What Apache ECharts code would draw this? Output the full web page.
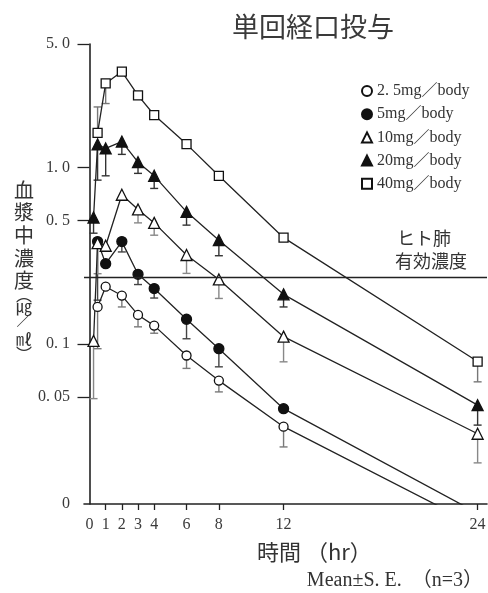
<!DOCTYPE html>
<html><head><meta charset="utf-8">
<script src="https://cdn.jsdelivr.net/npm/echarts@6/dist/echarts.min.js"></script>
<style>html,body{margin:0;padding:0;background:#fff}#c{width:488px;height:593px}</style>
</head><body><div id="c"></div>
<script>
// ---- data ----
const times = [0.25, 0.5, 1, 2, 3, 4, 6, 8, 12, 24];            // hr
const doseNames = ['2. 5mg／body', '5mg／body', '10mg／body', '20mg／body', '40mg／body'];
// mean plasma concentration (μg/mL); null = not plotted
const conc2_5 = [null, 0.162, 0.211, 0.188, 0.146, 0.127, 0.086, 0.062, 0.034, 0.0093];
const conc5   = [null, 0.38, 0.285, 0.38, 0.248, 0.206, 0.138, 0.094, 0.043, 0.011];
const conc10  = [0.104, 0.372, 0.36, 0.70, 0.578, 0.485, 0.319, 0.232, 0.110, 0.031];
const conc20  = [0.52, 1.35, 1.28, 1.40, 1.07, 0.896, 0.56, 0.387, 0.191, 0.045];
const conc40  = [null, 1.57, 2.99, 3.49, 2.56, 1.98, 1.355, 0.896, 0.40, 0.0795];
// end of the one-sided S.E. bar (μg/mL); null = no bar drawn
const errEnd2_5 = [null, 0.094, null, 0.162, 0.125, 0.115, 0.0727, 0.0535, 0.0261, null];
const errEnd5   = [null, 0.177, null, 0.332, 0.217, 0.182, 0.107, 0.0742, null, null];
const errEnd10  = [0.049, 0.25, null, null, 0.485, 0.413, 0.251, 0.181, 0.0792, 0.0212];
const errEnd20  = [0.424, 0.847, 0.896, 1.185, 0.925, 0.76, 0.471, 0.316, 0.162, 0.0347];
const errEnd40  = [null, 2.2, 2.3, null, null, null, null, null, null, 0.061];
const lungEffectiveConc = 0.245;   // ヒト肺有効濃度
// axis ticks / labels
const xTickValues  = [1, 2, 3, 4, 6, 8, 12, 24];
const xLabelValues = [0, 1, 2, 3, 4, 6, 8, 12, 24];
const Y_MIN = 0.0124, Y_MAX = 5;
const yTickValues  = [0.05, 0.1, 0.5, 1, 5];
const yLabelValues = [Y_MIN * 1.001, 0.05, 0.1, 0.5, 1, 5];
const yLabelTexts  = ['0', '0. 05', '0. 1', '0. 5', '1. 0', '5. 0'];

// ---- chart ----
const serif = '"Liberation Serif", "Noto Sans CJK JP", serif';
const cjk = '"Noto Sans CJK JP", sans-serif';
const INK = '#222';

function lineSeries(name, conc, symbol, filled, size) {
  return {
    type: 'line', name: name,
    data: times.map((t, i) => [t, conc[i]]),
    symbol: symbol, symbolSize: size, showAllSymbol: true,
    clip: true, connectNulls: false, animation: false,
    lineStyle: { color: INK, width: 1.3 },
    itemStyle: { color: filled ? '#111' : '#fff', borderColor: '#111', borderWidth: 1.3 },
    emphasis: { disabled: true }, z: 4
  };
}
function errSeries(name, conc, ends, color) {
  const d = [];
  times.forEach((t, i) => { if (conc[i] != null && ends[i] != null) d.push([t, conc[i], ends[i]]); });
  return {
    type: 'custom', name: name + ' SE', data: d, clip: true, silent: true, z: 3,
    encode: { x: 0, y: 1 }, animation: false,
    renderItem: function (params, api) {
      const p1 = api.coord([api.value(0), api.value(1)]);
      const p2 = api.coord([api.value(0), api.value(2)]);
      const st = { stroke: color, lineWidth: 1.4 };
      return { type: 'group', children: [
        { type: 'line', shape: { x1: p1[0], y1: p1[1], x2: p2[0], y2: p2[1] }, style: st },
        { type: 'line', shape: { x1: p2[0] - 4, y1: p2[1], x2: p2[0] + 4, y2: p2[1] }, style: st }
      ]};
    }
  };
}

const s40 = lineSeries(doseNames[4], conc40, 'rect', false, 9);
s40.markLine = {
  silent: true, symbol: ['none', 'none'], label: { show: false }, animation: false,
  lineStyle: { color: INK, width: 1.3, type: 'solid' },
  data: [{ yAxis: lungEffectiveConc }]
};

const yNameChars = [['血', 190, 20], ['漿', 212, 20], ['中', 235, 20], ['濃', 258, 20], ['度', 280, 20],
  ['︵', 295, 16], ['㎍', 306, 16], ['／', 320, 15], ['㎖', 339, 16], ['︶', 354, 16]];

const option = {
  backgroundColor: '#fff',
  animation: false,
  grid: { left: 84, right: 1, top: 44, bottom: 89, containLabel: false, outerBoundsMode: 'none' },
  xAxis: {
    type: 'value', min: -0.34, max: 24.58,
    axisLine: { show: true, lineStyle: { color: INK, width: 1.6 } },
    axisTick: { show: true, length: 6, customValues: xTickValues, lineStyle: { color: INK, width: 1.3 } },
    axisLabel: { show: true, customValues: xLabelValues, margin: 13, color: '#3a3a3a',
      fontSize: 16, fontFamily: serif },
    splitLine: { show: false }
  },
  yAxis: {
    type: 'log', logBase: 10, min: Y_MIN, max: Y_MAX,
    axisLine: { show: true, lineStyle: { color: INK, width: 1.6 } },
    axisTick: { show: true, length: 12, customValues: yTickValues, lineStyle: { color: INK, width: 1.3 } },
    axisLabel: { show: true, customValues: yLabelValues, margin: 14, color: '#3a3a3a',
      fontSize: 16, fontFamily: serif,
      formatter: function (v) {
        let best = 0, bd = Infinity;
        yLabelValues.forEach((y, i) => { const d = Math.abs(Math.log(v / y)); if (d < bd) { bd = d; best = i; } });
        return yLabelTexts[best];
      } },
    splitLine: { show: false }
  },
  legend: {
    orient: 'vertical', left: 356, top: 78, itemGap: 7.2, itemWidth: 10, itemHeight: 10,
    selectedMode: false,
    textStyle: { fontSize: 16, fontFamily: serif, color: '#333' },
    data: [
      { name: doseNames[0], icon: 'circle' },
      { name: doseNames[1], icon: 'circle' },
      { name: doseNames[2], icon: 'triangle' },
      { name: doseNames[3], icon: 'triangle' },
      { name: doseNames[4], icon: 'rect' }
    ]
  },
  series: [
    errSeries(doseNames[0], conc2_5, errEnd2_5, '#7a7a7a'),
    errSeries(doseNames[1], conc5, errEnd5, '#444'),
    errSeries(doseNames[2], conc10, errEnd10, '#888'),
    errSeries(doseNames[3], conc20, errEnd20, '#333'),
    errSeries(doseNames[4], conc40, errEnd40, '#777'),
    lineSeries(doseNames[0], conc2_5, 'circle', false, 9),
    lineSeries(doseNames[1], conc5, 'circle', true, 10),
    lineSeries(doseNames[2], conc10, 'triangle', false, 11),
    lineSeries(doseNames[3], conc20, 'triangle', true, 11),
    s40
  ],
  graphic: [
    { type: 'text', left: 232, top: 13, style: { text: '単回経口投与', font: '27px ' + cjk, fill: '#3a3a3a' } },
    { type: 'text', left: 397, top: 229, style: { text: 'ヒト肺', font: '18px ' + cjk, fill: '#333' } },
    { type: 'text', left: 395, top: 252, style: { text: '有効濃度', font: '18px ' + cjk, fill: '#333' } },
    { type: 'text', left: 257, top: 541, style: { text: '時間 （hr）', font: '22px ' + cjk, fill: '#333' } },
    { type: 'text', right: 5, top: 571, style: { text: 'Mean±S. E.  （n=3）', font: '20px ' + serif, fill: '#333' } }
  ].concat(yNameChars.map(c => ({
    type: 'text', x: 24, y: c[1],
    style: { text: c[0], font: c[2] + 'px ' + cjk, fill: '#333', align: 'center', verticalAlign: 'middle' }
  })))
};

const chart = echarts.init(document.getElementById('c'), null, { renderer: 'canvas' });
chart.setOption(option);
</script>
</body></html>
